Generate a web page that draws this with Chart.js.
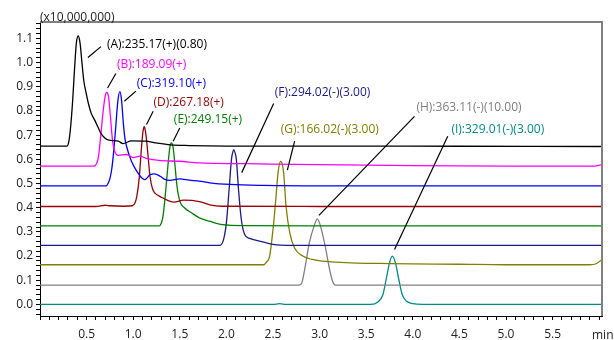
<!DOCTYPE html>
<html>
<head>
<meta charset="utf-8">
<script src="https://cdn.jsdelivr.net/npm/chart.js@4.4.1/dist/chart.umd.min.js"></script>
<style>
  body { margin: 0; background: #fff; }
  #wrap { width: 614px; height: 340px; }
</style>
</head>
<body>
<div id="wrap"><canvas id="chromChart" width="614" height="340"></canvas></div>
<script>
// retention time (min) / intensity (x10,000,000)
const traceA = [[0, 0.655], [0.29, 0.655], [0.31, 0.675], [0.33, 0.74], [0.35, 0.84], [0.37, 0.97], [0.39, 1.08], [0.41, 1.11], [0.43, 1.08], [0.45, 1.0], [0.47, 0.925], [0.50, 0.865], [0.52, 0.83], [0.55, 0.79], [0.59, 0.76], [0.62, 0.735], [0.65, 0.71], [0.69, 0.69], [0.73, 0.68], [0.84, 0.675], [0.89, 0.665], [0.98, 0.676], [1.13, 0.675], [1.24, 0.668], [1.4, 0.66], [1.6, 0.657], [2.0, 0.655], [3.0, 0.655], [4.5, 0.654], [6.03, 0.653]];
const traceB = [[0, 0.572], [0.58, 0.572], [0.60, 0.578], [0.625, 0.605], [0.65, 0.69], [0.675, 0.79], [0.70, 0.862], [0.715, 0.877], [0.735, 0.86], [0.755, 0.78], [0.775, 0.69], [0.80, 0.635], [0.84, 0.616], [0.93, 0.62], [1.0, 0.607], [1.07, 0.613], [1.15, 0.603], [1.3, 0.595], [1.5, 0.592], [1.71, 0.585], [2.2, 0.582], [3.0, 0.578], [4.0, 0.574], [5.0, 0.572], [5.95, 0.572], [6.03, 0.578]];
const traceC = [[0, 0.49], [0.71, 0.49], [0.73, 0.5], [0.75, 0.52], [0.77, 0.56], [0.79, 0.63], [0.81, 0.72], [0.835, 0.84], [0.857, 0.88], [0.875, 0.845], [0.893, 0.755], [0.91, 0.69], [0.93, 0.652], [0.98, 0.593], [1.04, 0.55], [1.09, 0.524], [1.125, 0.516], [1.18, 0.536], [1.23, 0.54], [1.29, 0.53], [1.34, 0.517], [1.39, 0.513], [1.5, 0.519], [1.6, 0.514], [1.71, 0.51], [1.82, 0.503], [2.04, 0.496], [2.4, 0.492], [3.0, 0.49], [6.03, 0.49]];
const traceD = [[0, 0.405], [0.6, 0.405], [0.7, 0.41], [0.75, 0.408], [0.9, 0.406], [0.99, 0.408], [1.02, 0.42], [1.04, 0.45], [1.064, 0.52], [1.09, 0.654], [1.105, 0.715], [1.118, 0.735], [1.132, 0.715], [1.15, 0.654], [1.165, 0.59], [1.18, 0.53], [1.21, 0.475], [1.27, 0.45], [1.32, 0.44], [1.39, 0.427], [1.44, 0.423], [1.54, 0.431], [1.71, 0.425], [1.82, 0.412], [1.95, 0.406], [3.0, 0.405], [6.03, 0.405]];
const traceE = [[0, 0.325], [1.28, 0.325], [1.30, 0.335], [1.32, 0.365], [1.35, 0.475], [1.375, 0.585], [1.395, 0.655], [1.41, 0.668], [1.428, 0.65], [1.446, 0.585], [1.47, 0.489], [1.5, 0.427], [1.55, 0.4], [1.625, 0.379], [1.71, 0.358], [1.82, 0.344], [1.96, 0.33], [2.2, 0.326], [3.0, 0.325], [6.03, 0.325]];
const traceF = [[0, 0.244], [1.93, 0.244], [1.97, 0.269], [2.0, 0.338], [2.029, 0.475], [2.054, 0.599], [2.066, 0.627], [2.079, 0.64], [2.093, 0.627], [2.107, 0.599], [2.13, 0.475], [2.16, 0.351], [2.196, 0.289], [2.25, 0.273], [2.357, 0.262], [2.5, 0.248], [2.7, 0.244], [6.03, 0.244]];
const traceG = [[0, 0.164], [2.4, 0.164], [2.43, 0.175], [2.464, 0.2], [2.5, 0.31], [2.53, 0.434], [2.554, 0.544], [2.582, 0.592], [2.614, 0.544], [2.64, 0.406], [2.68, 0.296], [2.73, 0.234], [2.82, 0.2], [2.96, 0.183], [3.18, 0.175], [3.4, 0.171], [3.75, 0.169], [4.5, 0.166], [5.0, 0.164], [5.9, 0.164], [5.96, 0.167], [6.03, 0.185]];
const traceH = [[0, 0.08], [2.78, 0.08], [2.81, 0.09], [2.84, 0.145], [2.89, 0.255], [2.946, 0.33], [2.975, 0.354], [3.005, 0.33], [3.06, 0.241], [3.107, 0.145], [3.14, 0.095], [3.17, 0.08], [6.03, 0.08]];
const traceI = [[0, 0], [2.5, 0], [2.57, 0.003], [2.64, 0], [3.55, 0], [3.625, 0.01], [3.68, 0.041], [3.714, 0.103], [3.75, 0.172], [3.779, 0.2], [3.814, 0.172], [3.85, 0.103], [3.886, 0.041], [3.93, 0.014], [4.0, 0.003], [4.1, 0], [6.03, 0]];

const traces = [traceA, traceB, traceC, traceD, traceE, traceF, traceG, traceH, traceI];
const traceColors = ['#000000', '#ff00ff', '#0000ff', '#990000', '#008000', '#1a1a8c', '#808000', '#808080', '#008b8b'];

const peakLabels = ['(A):235.17(+)(0.80)', '(B):189.09(+)', '(C):319.10(+)', '(D):267.18(+)', '(E):249.15(+)',
  '(F):294.02(-)(3.00)', '(G):166.02(-)(3.00)', '(H):363.11(-)(10.00)', '(I):329.01(-)(3.00)'];
// callout: line start (near peak), line end, text position — in time/intensity units
const calloutFrom = [[0.514, 1.021], [0.725, 0.895], [0.905, 0.840], [1.143, 0.744], [1.429, 0.675], [2.164, 0.545], [2.654, 0.555], [2.993, 0.368], [3.804, 0.227]];
const calloutTo = [[0.654, 1.066], [0.814, 0.955], [1.029, 0.882], [1.214, 0.799], [1.500, 0.730], [2.507, 0.831], [2.732, 0.675], [4.018, 0.778], [4.375, 0.695]];
const calloutText = [[0.718, 1.075], [0.825, 0.992], [1.039, 0.913], [1.218, 0.833], [1.436, 0.764], [2.518, 0.876], [2.582, 0.723], [4.039, 0.814], [4.414, 0.723]];

const FONT = '"Open Sans", "Noto Sans", sans-serif';

const overlay = {
  id: 'overlay',
  afterDatasetsDraw(chart) {
    const { ctx, chartArea: a, scales: { x, y } } = chart;
    ctx.save();
    ctx.strokeStyle = '#808080';
    ctx.lineWidth = 2;
    ctx.beginPath();
    ctx.moveTo(a.left, a.top);
    ctx.lineTo(a.right, a.top);
    ctx.lineTo(a.right, a.bottom);
    ctx.stroke();

    ctx.font = '12px ' + FONT;
    ctx.textBaseline = 'middle';
    ctx.textAlign = 'left';
    peakLabels.forEach((txt, i) => {
      ctx.strokeStyle = '#000';
      ctx.lineWidth = 1.2;
      ctx.beginPath();
      ctx.moveTo(x.getPixelForValue(calloutFrom[i][0]), y.getPixelForValue(calloutFrom[i][1]));
      ctx.lineTo(x.getPixelForValue(calloutTo[i][0]), y.getPixelForValue(calloutTo[i][1]));
      ctx.stroke();
      ctx.fillStyle = traceColors[i];
      ctx.fillText(txt, x.getPixelForValue(calloutText[i][0]), y.getPixelForValue(calloutText[i][1]));
    });

    ctx.fillStyle = '#222';
    ctx.fillText('(x10,000,000)', a.left, a.top - 4);
    ctx.fillText('min', a.right - 10, a.bottom + 20);
    ctx.restore();
  }
};

const datasets = traces.map((t, i) => ({
  data: t.map(p => ({ x: p[0], y: p[1] })),
  borderColor: traceColors[i],
  borderWidth: 1.3,
  pointRadius: 0,
  fill: false,
  cubicInterpolationMode: 'monotone'
}));

new Chart(document.getElementById('chromChart'), {
  type: 'line',
  data: { datasets },
  plugins: [overlay],
  options: {
    responsive: false,
    animation: false,
    layout: { padding: { top: 22, right: 12, left: 0, bottom: 0 } },
    plugins: { legend: { display: false }, tooltip: { enabled: false } },
    scales: {
      x: {
        type: 'linear',
        min: 0,
        max: 6.03,
        afterBuildTicks: s => { s.ticks = []; for (let i = 0; i <= 60; i++) s.ticks.push({ value: i / 10 }); },
        afterFit: s => { s.height = 24; },
        grid: { drawOnChartArea: false, color: '#000', tickLength: 4 },
        border: { color: '#000', width: 1 },
        ticks: {
          autoSkip: false, maxRotation: 0, padding: 7, color: '#222',
          font: { size: 12, family: FONT },
          callback: v => {
            const k = Math.round(v * 10);
            return (k % 5 === 0 && k >= 5 && k <= 55) ? (k / 10).toFixed(1) : '';
          }
        }
      },
      y: {
        min: -0.048,
        max: 1.168,
        afterBuildTicks: s => { s.ticks = []; for (let i = -2; i <= 58; i++) s.ticks.push({ value: i / 50 }); },
        afterFit: s => { s.width = 40; },
        grid: { drawOnChartArea: false, color: '#000', tickLength: 4 },
        border: { color: '#000', width: 1 },
        ticks: {
          autoSkip: false, padding: 3, color: '#222',
          font: { size: 12, family: FONT },
          callback: v => {
            const k = Math.round(v * 50);
            return (k % 5 === 0 && k >= 0 && k <= 55) ? (k / 50).toFixed(1) : '';
          }
        }
      }
    }
  }
});
</script>
</body>
</html>
